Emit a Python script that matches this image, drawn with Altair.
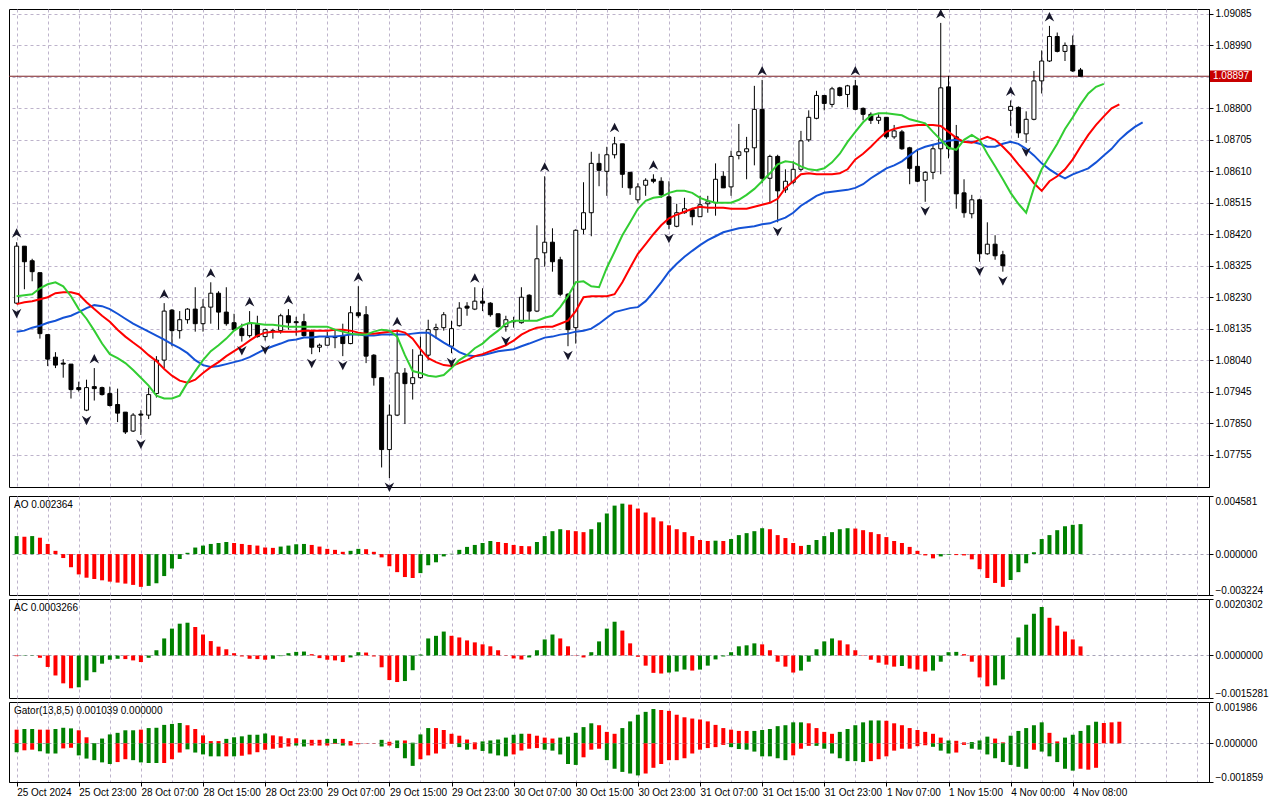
import altair as alt
import pandas as pd

# ---------------- data (EURUSD H1) ----------------
OPEN = [1.08212, 1.08384, 1.08340, 1.08304, 1.08117, 1.08049, 1.08031, 1.08028, 1.07957, 1.07889,
        1.07960, 1.07957, 1.07939, 1.07906, 1.07883, 1.07826, 1.07877, 1.07874, 1.07939, 1.08040,
        1.08191, 1.08129, 1.08162, 1.08194, 1.08150, 1.08200, 1.08242, 1.08185, 1.08153, 1.08135,
        1.08114, 1.08147, 1.08111, 1.08126, 1.08129, 1.08174, 1.08156, 1.08156, 1.08129, 1.08079,
        1.08085, 1.08111, 1.08114, 1.08090, 1.08183, 1.08177, 1.08055, 1.07987, 1.07770, 1.07874,
        1.08001, 1.07969, 1.07987, 1.08055, 1.08132, 1.08138, 1.08082, 1.08144, 1.08203, 1.08194,
        1.08218, 1.08212, 1.08180, 1.08141, 1.08156, 1.08153, 1.08236, 1.08188, 1.08364, 1.08396,
        1.08343, 1.08239, 1.08138, 1.08435, 1.08485, 1.08634, 1.08610, 1.08660, 1.08693, 1.08607,
        1.08524, 1.08568, 1.08586, 1.08580, 1.08533, 1.08444, 1.08485, 1.08494, 1.08473, 1.08512,
        1.08515, 1.08595, 1.08563, 1.08658, 1.08669, 1.08681, 1.08797, 1.08589, 1.08655, 1.08554,
        1.08577, 1.08616, 1.08705, 1.08770, 1.08839, 1.08812, 1.08862, 1.08842, 1.08868, 1.08800,
        1.08782, 1.08764, 1.08773, 1.08714, 1.08729, 1.08681, 1.08625, 1.08583, 1.08607, 1.08678,
        1.08865, 1.08714, 1.08545, 1.08482, 1.08524, 1.08361, 1.08390, 1.08358, 1.08794, 1.08803,
        1.08723, 1.08767, 1.08883, 1.08943, 1.09017, 1.08972, 1.08990, 1.08916]
HIGH = [1.08396, 1.08384, 1.08346, 1.08304, 1.08117, 1.08064, 1.08043, 1.08028, 1.07975, 1.07981,
        1.08016, 1.07960, 1.07960, 1.07954, 1.07883, 1.07880, 1.07889, 1.07957, 1.08052, 1.08212,
        1.08194, 1.08188, 1.08197, 1.08260, 1.08224, 1.08275, 1.08248, 1.08260, 1.08180, 1.08150,
        1.08188, 1.08174, 1.08135, 1.08135, 1.08180, 1.08194, 1.08171, 1.08180, 1.08132, 1.08090,
        1.08126, 1.08132, 1.08150, 1.08203, 1.08263, 1.08203, 1.08058, 1.07987, 1.07906, 1.08129,
        1.08016, 1.08073, 1.08111, 1.08162, 1.08150, 1.08185, 1.08159, 1.08215, 1.08215, 1.08260,
        1.08257, 1.08215, 1.08180, 1.08174, 1.08171, 1.08260, 1.08239, 1.08447, 1.08595, 1.08438,
        1.08352, 1.08242, 1.08435, 1.08577, 1.08669, 1.08663, 1.08684, 1.08714, 1.08693, 1.08607,
        1.08574, 1.08589, 1.08601, 1.08592, 1.08580, 1.08512, 1.08530, 1.08500, 1.08536, 1.08536,
        1.08634, 1.08610, 1.08672, 1.08753, 1.08714, 1.08868, 1.08886, 1.08660, 1.08660, 1.08616,
        1.08640, 1.08732, 1.08794, 1.08853, 1.08839, 1.08865, 1.08865, 1.08871, 1.08886, 1.08803,
        1.08788, 1.08782, 1.08773, 1.08750, 1.08735, 1.08684, 1.08675, 1.08610, 1.08690, 1.09058,
        1.08898, 1.08750, 1.08586, 1.08539, 1.08527, 1.08456, 1.08417, 1.08370, 1.08824, 1.08806,
        1.08791, 1.08913, 1.08975, 1.09049, 1.09029, 1.08999, 1.09020, 1.08922]
LOW = [1.08209, 1.08254, 1.08278, 1.08105, 1.08022, 1.08016, 1.07987, 1.07924, 1.07945, 1.07886,
       1.07918, 1.07933, 1.07900, 1.07853, 1.07817, 1.07823, 1.07814, 1.07862, 1.07927, 1.08016,
       1.08082, 1.08105, 1.08150, 1.08126, 1.08126, 1.08150, 1.08132, 1.08144, 1.08129, 1.08096,
       1.08108, 1.08108, 1.08099, 1.08105, 1.08120, 1.08132, 1.08114, 1.08111, 1.08058, 1.08064,
       1.08085, 1.08076, 1.08052, 1.08088, 1.08168, 1.08031, 1.07963, 1.07716, 1.07684, 1.07871,
       1.07847, 1.07921, 1.07984, 1.08040, 1.08105, 1.08129, 1.08061, 1.08141, 1.08174, 1.08191,
       1.08188, 1.08171, 1.08138, 1.08126, 1.08138, 1.08150, 1.08159, 1.08185, 1.08322, 1.08307,
       1.08233, 1.08082, 1.08090, 1.08420, 1.08414, 1.08565, 1.08536, 1.08649, 1.08560, 1.08539,
       1.08515, 1.08536, 1.08574, 1.08530, 1.08435, 1.08441, 1.08482, 1.08447, 1.08473, 1.08485,
       1.08476, 1.08560, 1.08536, 1.08646, 1.08586, 1.08628, 1.08574, 1.08515, 1.08456, 1.08545,
       1.08571, 1.08610, 1.08699, 1.08767, 1.08794, 1.08803, 1.08836, 1.08803, 1.08794, 1.08764,
       1.08753, 1.08753, 1.08708, 1.08708, 1.08675, 1.08571, 1.08577, 1.08518, 1.08586, 1.08601,
       1.08649, 1.08497, 1.08470, 1.08468, 1.08337, 1.08358, 1.08343, 1.08307, 1.08747, 1.08711,
       1.08696, 1.08764, 1.08845, 1.08940, 1.08969, 1.08943, 1.08910, 1.08897]
CLOSE = [1.08384, 1.08337, 1.08307, 1.08120, 1.08043, 1.08025, 1.08028, 1.07951, 1.07951, 1.07957,
         1.07954, 1.07936, 1.07903, 1.07880, 1.07823, 1.07874, 1.07874, 1.07936, 1.08040, 1.08188,
         1.08129, 1.08162, 1.08194, 1.08150, 1.08200, 1.08242, 1.08185, 1.08150, 1.08132, 1.08114,
         1.08150, 1.08111, 1.08132, 1.08129, 1.08174, 1.08153, 1.08153, 1.08114, 1.08079, 1.08085,
         1.08108, 1.08108, 1.08090, 1.08183, 1.08174, 1.08052, 1.07987, 1.07770, 1.07874, 1.08001,
         1.07969, 1.07987, 1.08055, 1.08132, 1.08138, 1.08177, 1.08135, 1.08197, 1.08197, 1.08218,
         1.08212, 1.08177, 1.08141, 1.08162, 1.08159, 1.08230, 1.08188, 1.08346, 1.08396, 1.08337,
         1.08239, 1.08132, 1.08432, 1.08485, 1.08634, 1.08613, 1.08660, 1.08693, 1.08601, 1.08560,
         1.08563, 1.08583, 1.08580, 1.08539, 1.08450, 1.08485, 1.08497, 1.08473, 1.08509, 1.08518,
         1.08586, 1.08560, 1.08655, 1.08669, 1.08678, 1.08797, 1.08589, 1.08655, 1.08551, 1.08580,
         1.08616, 1.08702, 1.08773, 1.08839, 1.08815, 1.08859, 1.08839, 1.08868, 1.08797, 1.08782,
         1.08764, 1.08773, 1.08714, 1.08732, 1.08678, 1.08619, 1.08580, 1.08607, 1.08678, 1.08862,
         1.08678, 1.08542, 1.08485, 1.08524, 1.08361, 1.08390, 1.08355, 1.08325, 1.08806, 1.08726,
         1.08767, 1.08883, 1.08943, 1.09017, 1.08972, 1.08990, 1.08913, 1.08897]

# Alligator lines (Lips = green, Teeth = red, Jaw = blue), one value per bar, shifted ahead
LIPS = [1.08233, 1.08236, 1.08239, 1.08257, 1.08269, 1.08275, 1.08263, 1.08233, 1.08194, 1.08165,
        1.08129, 1.08090, 1.08058, 1.08046, 1.08031, 1.08010, 1.07987, 1.07963, 1.07933, 1.07924,
        1.07924, 1.07933, 1.07972, 1.08007, 1.08040, 1.08067, 1.08085, 1.08105, 1.08129, 1.08144,
        1.08153, 1.08150, 1.08147, 1.08147, 1.08144, 1.08141, 1.08141, 1.08141, 1.08141, 1.08141,
        1.08141, 1.08132, 1.08126, 1.08120, 1.08117, 1.08117, 1.08126, 1.08132, 1.08129, 1.08111,
        1.08055, 1.08007, 1.08001, 1.07993, 1.07990, 1.07995, 1.08016, 1.08040, 1.08055, 1.08076,
        1.08090, 1.08111, 1.08129, 1.08150, 1.08159, 1.08159, 1.08159, 1.08159, 1.08168, 1.08174,
        1.08200, 1.08233, 1.08275, 1.08278, 1.08263, 1.08260, 1.08319, 1.08367, 1.08417, 1.08456,
        1.08497, 1.08521, 1.08530, 1.08533, 1.08545, 1.08551, 1.08551, 1.08545, 1.08530, 1.08521,
        1.08515, 1.08515, 1.08515, 1.08524, 1.08539, 1.08557, 1.08580, 1.08604, 1.08631, 1.08640,
        1.08637, 1.08625, 1.08616, 1.08613, 1.08619, 1.08637, 1.08663, 1.08699, 1.08729, 1.08758,
        1.08779, 1.08785, 1.08785, 1.08782, 1.08779, 1.08767, 1.08761, 1.08755, 1.08729, 1.08705,
        1.08681, 1.08675, 1.08705, 1.08720, 1.08705, 1.08663, 1.08625, 1.08586, 1.08545, 1.08512,
        1.08485, 1.08560, 1.08616, 1.08655, 1.08693, 1.08738, 1.08773, 1.08812, 1.08845, 1.08865,
        1.08874]
TEETH = [1.08209, 1.08215, 1.08218, 1.08224, 1.08230, 1.08242, 1.08245, 1.08245, 1.08239, 1.08215,
         1.08194, 1.08174, 1.08156, 1.08132, 1.08111, 1.08093, 1.08076, 1.08055, 1.08037, 1.08013,
         1.07993, 1.07978, 1.07972, 1.07981, 1.08001, 1.08019, 1.08034, 1.08052, 1.08067, 1.08082,
         1.08099, 1.08114, 1.08123, 1.08126, 1.08126, 1.08126, 1.08126, 1.08129, 1.08129, 1.08129,
         1.08129, 1.08132, 1.08132, 1.08129, 1.08123, 1.08120, 1.08120, 1.08123, 1.08126, 1.08129,
         1.08123, 1.08105, 1.08073, 1.08046, 1.08034, 1.08025, 1.08022, 1.08031, 1.08040, 1.08052,
         1.08058, 1.08067, 1.08076, 1.08085, 1.08099, 1.08117, 1.08129, 1.08138, 1.08141, 1.08141,
         1.08150, 1.08159, 1.08188, 1.08230, 1.08233, 1.08233, 1.08233, 1.08239, 1.08275, 1.08319,
         1.08361, 1.08390, 1.08420, 1.08447, 1.08468, 1.08479, 1.08488, 1.08497, 1.08503, 1.08500,
         1.08500, 1.08500, 1.08497, 1.08497, 1.08497, 1.08503, 1.08509, 1.08515, 1.08527, 1.08560,
         1.08580, 1.08601, 1.08604, 1.08601, 1.08601, 1.08601, 1.08604, 1.08616, 1.08646, 1.08663,
         1.08684, 1.08708, 1.08729, 1.08738, 1.08744, 1.08747, 1.08750, 1.08750, 1.08750, 1.08747,
         1.08729, 1.08711, 1.08699, 1.08696, 1.08705, 1.08714, 1.08705, 1.08684, 1.08660, 1.08631,
         1.08604, 1.08574, 1.08551, 1.08580, 1.08595, 1.08616, 1.08646, 1.08684, 1.08720, 1.08750,
         1.08776, 1.08800, 1.08812]
JAW = [1.08126, 1.08129, 1.08138, 1.08144, 1.08153, 1.08159, 1.08168, 1.08174, 1.08185, 1.08197,
       1.08206, 1.08203, 1.08194, 1.08180, 1.08165, 1.08150, 1.08138, 1.08126, 1.08114, 1.08102,
       1.08088, 1.08076, 1.08061, 1.08040, 1.08025, 1.08019, 1.08022, 1.08028, 1.08034, 1.08040,
       1.08049, 1.08061, 1.08073, 1.08082, 1.08090, 1.08099, 1.08102, 1.08108, 1.08108, 1.08111,
       1.08111, 1.08111, 1.08114, 1.08117, 1.08117, 1.08114, 1.08114, 1.08117, 1.08117, 1.08117,
       1.08117, 1.08120, 1.08123, 1.08123, 1.08108, 1.08093, 1.08079, 1.08064, 1.08055, 1.08052,
       1.08055, 1.08061, 1.08067, 1.08070, 1.08073, 1.08082, 1.08090, 1.08099, 1.08108, 1.08111,
       1.08117, 1.08120, 1.08126, 1.08129, 1.08135, 1.08150, 1.08168, 1.08185, 1.08191, 1.08197,
       1.08200, 1.08218, 1.08245, 1.08275, 1.08307, 1.08331, 1.08352, 1.08370, 1.08387, 1.08402,
       1.08414, 1.08426, 1.08432, 1.08438, 1.08441, 1.08444, 1.08450, 1.08453, 1.08462, 1.08470,
       1.08485, 1.08506, 1.08521, 1.08536, 1.08545, 1.08548, 1.08551, 1.08554, 1.08560, 1.08571,
       1.08589, 1.08604, 1.08619, 1.08628, 1.08640, 1.08658, 1.08675, 1.08684, 1.08690, 1.08696,
       1.08702, 1.08705, 1.08699, 1.08699, 1.08693, 1.08684, 1.08684, 1.08693, 1.08699, 1.08693,
       1.08678, 1.08658, 1.08634, 1.08616, 1.08601, 1.08589, 1.08601, 1.08610, 1.08619, 1.08637,
       1.08658, 1.08678, 1.08705, 1.08726, 1.08744, 1.08758]

FRACTAL_UP = [0, 10, 19, 25, 30, 35, 44, 49, 59, 68, 77, 82, 96, 108, 119, 128, 133]
FRACTAL_DN = [0, 9, 16, 29, 32, 38, 42, 48, 56, 63, 71, 84, 98, 117, 124, 127, 130]

AO = [0.001421, 0.001369, 0.001421, 0.001292, 0.000801, 0.000258, -0.000310, -0.001033, -0.001601, -0.001860,
      -0.001963, -0.002066, -0.002170, -0.002247, -0.002325, -0.002428, -0.002583, -0.002506, -0.002299, -0.001731,
      -0.001137, -0.000387, 0.000103, 0.000517, 0.000672, 0.000801, 0.000878, 0.000956, 0.000878, 0.000801,
      0.000723, 0.000672, 0.000517, 0.000491, 0.000594, 0.000672, 0.000775, 0.000801, 0.000723, 0.000594,
      0.000413, 0.000336, 0.000181, 0.000258, 0.000413, 0.000387, 0.000181, -0.000258, -0.000956, -0.001421,
      -0.001808, -0.001886, -0.001498, -0.000878, -0.000646, -0.000181, 0.000026, 0.000336, 0.000568, 0.000723,
      0.000878, 0.001033, 0.000956, 0.000878, 0.000723, 0.000646, 0.000620, 0.000956, 0.001421, 0.001808,
      0.001963, 0.001886, 0.001808, 0.001731, 0.001963, 0.002506, 0.003203, 0.003823, 0.003978, 0.003900,
      0.003590, 0.003280, 0.002893, 0.002583, 0.002273, 0.001963, 0.001731, 0.001421, 0.001111, 0.001033,
      0.001059, 0.001033, 0.001188, 0.001498, 0.001653, 0.001808, 0.002041, 0.001963, 0.001498, 0.001266,
      0.000878, 0.000646, 0.000723, 0.001111, 0.001421, 0.001731, 0.001963, 0.002041, 0.002015, 0.001886,
      0.001731, 0.001576, 0.001343, 0.001033, 0.000878, 0.000568, 0.000258, -0.000103, -0.000336, -0.000181,
      -0.000052, -0.000078, -0.000103, -0.000413, -0.001188, -0.001886, -0.002273, -0.002583, -0.002041, -0.001421,
      -0.000723, 0.000155, 0.001188, 0.001498, 0.001886, 0.002196, 0.002310, 0.002364]
AO_COL = ("grgrrrrrrr" "rrrrrrrggg" "ggggggggrr" "rrrrggggrr" "rrrggrrrrr" "rrgggggggg" "ggrrrrrggg"
          "grrrgggggr" "rrrrrrrrrr" "grgggggrrr" "rrggggggrr" "rrrrrrrrrg" "grrrrrrrgg" "gggggggg")

# Accelerator oscillator, in units of 1e-7
AC_E7 = [-236, -118, 118, -825, -4123, -7186, -10013, -11780, -11427, -8953,
         -6008, -2945, -1531, -1178, -1296, -1767, -2356, -825, 1885, 6126,
         9660, 11427, 11780, 10249, 7539, 5183, 3181, 2238, 825, -353,
         -1178, -1296, -1531, -1178, -236, 825, 1296, 1414, 471, -942,
         -1531, -1767, -2356, -707, 1178, 1060, -353, -4241, -8835, -9542,
         -9188, -5301, 353, 6126, 7068, 8599, 7068, 6479, 5419, 4712,
         4005, 3298, 1885, 118, -1060, -1414, -707, 1885, 5772, 7539,
         6126, 3298, -118, -707, 1178, 5065, 9660, 12133, 8953, 4359,
         -471, -3652, -6243, -6479, -6126, -5772, -5065, -5419, -5065, -3652,
         -1414, -353, 1178, 3298, 3652, 4359, 4005, 1885, -2238, -4005,
         -6126, -5419, -2238, 2238, 5065, 6126, 5419, 4005, 1885, 118,
         -1531, -2592, -3298, -4005, -3770, -4712, -5065, -5772, -5419, -2238,
         1178, 1296, 471, -2238, -7893, -11073, -10720, -8599, 118, 6479,
         11073, 14961, 17434, 13547, 10720, 8599, 5772, 3266]
AC_COL = ("rggrrrrrgg" "ggggrrrggg" "gggrrrrrrr" "rrrgggggrr" "rrrggrrrrr" "ggggggrrrr" "rrrrrrgggg"
          "rrrrggggrr" "rrrrgggrgg" "ggggggrrrr" "rgggggrrrr" "rrrrgrrrgg" "ggrrrrgggg" "gggrrrrr")

# Gator oscillator, in units of 1e-6 (upper / lower histograms)
GATOR_UP_E6 = [657, 687, 687, 657, 657, 687, 748, 718, 626, 290,
               15, 229, 428, 504, 626, 626, 657, 733, 748, 886,
               931, 977, 870, 687, 382, 107, 107, 214, 290, 336,
               412, 412, 473, 382, 336, 244, 244, 183, 168, 168,
               214, 214, 214, 107, 15, 0, 0, 168, 76, 137,
               137, 31, 428, 733, 733, 641, 458, 366, 183, 46,
               92, 137, 183, 275, 412, 458, 458, 366, 275, 229,
               275, 321, 504, 779, 962, 870, 550, 458, 733, 1054,
               1374, 1512, 1649, 1603, 1558, 1374, 1252, 1191, 1145, 1054,
               886, 733, 657, 596, 596, 596, 641, 687, 825, 870,
               1008, 1008, 962, 733, 550, 458, 550, 687, 870, 1008,
               1099, 1099, 1084, 962, 870, 733, 641, 550, 458, 275,
               137, 122, 46, 61, 137, 321, 229, 46, 366, 596,
               733, 870, 1008, 504, 92, 275, 412, 596, 870, 1038,
               977, 1008, 1039]
GATOR_UP_COL = ("rggrrgggrr" "ggggggrggg" "ggrrrrrggg" "gggrrrrgrr" "ggrrrrrgrg" "rgggrrrrrr" "ggggggrrrr"
                "gggggrrrgg" "gggrrrrrrr" "rrrrrggggg" "ggrrrrgggg" "ggrrrrrrrr" "grrgggrrgg" "gggrrggggg" "rrr")
GATOR_DN_E6 = [-428, -336, -305, -382, -489, -489, -244, -214, -580, -733,
               -809, -916, -993, -901, -764, -809, -916, -947, -947, -947,
               -764, -443, -290, -443, -534, -626, -626, -626, -626, -596,
               -534, -428, -305, -260, -214, -153, -107, -153, -107, -107,
               -107, -31, -107, -107, -46, -15, -15, -153, -107, -229,
               -718, -1084, -764, -580, -489, -260, -31, -183, -305, -290,
               -366, -489, -580, -626, -534, -351, -260, -229, -305, -351,
               -534, -993, -1038, -672, -305, -260, -809, -1222, -1374, -1451,
               -1542, -1451, -1176, -993, -809, -809, -718, -489, -305, -229,
               -183, -76, -183, -275, -305, -397, -626, -626, -718, -809,
               -580, -260, -122, -122, -260, -489, -718, -855, -855, -901,
               -855, -764, -626, -351, -260, -260, -137, -92, -168, -351,
               -489, -443, -76, -260, -305, -534, -718, -901, -1038, -1130,
               -1222, -305, -397, -626, -901, -1222, -1313, -1222, -1267, -1176]
GATOR_DN_COL = ("grrgggrrgg" "gggrrggggr" "rrgggggrgr" "rrrrrrggrr" "rrgrrrrgrg" "ggrrrrrggr" "ggggrrrrgg"
                "gggrrrgggg" "grrrrrrrrr" "rrgggggggg" "rrrggggggg" "rrrrrrrrgg" "grrggggggg" "grgggggrrr")

PRICE_TICKS = [1.09085, 1.08990, 1.08895, 1.08800, 1.08705, 1.08610, 1.08515, 1.08420,
               1.08325, 1.08230, 1.08135, 1.08040, 1.07945, 1.07850, 1.07755]
PRICE_RANGE = [1.07657, 1.09100]
CURRENT = 1.08897
AO_RANGE = [-0.003224, 0.004581]
AC_RANGE = [-0.0015281, 0.0020302]
GATOR_RANGE = [-0.001859, 0.001986]
XLABELS = ["25 Oct 2024", "25 Oct 23:00", "28 Oct 07:00", "28 Oct 15:00", "28 Oct 23:00",
           "29 Oct 07:00", "29 Oct 15:00", "29 Oct 23:00", "30 Oct 07:00", "30 Oct 15:00",
           "30 Oct 23:00", "31 Oct 07:00", "31 Oct 15:00", "31 Oct 23:00", "1 Nov 07:00",
           "1 Nov 15:00", "4 Nov 00:00", "4 Nov 08:00"]
LABEL_AO = "AO 0.002364"
LABEL_AC = "AC 0.0003266"
LABEL_GATOR = "Gator(13,8,5) 0.001039 0.000000"

# ---------------- styling ----------------
FONT = "Liberation Sans"
W = 1200
H_MAIN, H_AO, H_AC, H_GT = 478, 99, 99, 80
GRID = "#bdb3cb"
GREEN_BAR, RED_BAR = "#008000", "#ff0000"
LIME, TEETH_C, JAW_C = "#32cd32", "#ff0000", "#1452d6"
XDOM = [-0.34, 152.9]
LAST_LABEL_BAR = 8 * (len(XLABELS) - 1)

xs = alt.Scale(domain=XDOM, nice=False, zero=False)
grid_vals = list(range(0, 153, 4))
AX_X = alt.Axis(values=grid_vals, grid=True, gridDash=[3, 3], gridColor=GRID,
                labels=False, ticks=False, domain=False, title=None)
lab_arr = "[" + ",".join("'" + s + "'" for s in XLABELS) + "]"
tick_test = f"datum.value % 8 === 0 && datum.value <= {LAST_LABEL_BAR}"
AX_X_BOTTOM = alt.Axis(values=grid_vals, grid=True, gridDash=[3, 3], gridColor=GRID,
                       labels=True, labelExpr=f"{tick_test} ? {lab_arr}[datum.value / 8] : ''",
                       labelAlign="left", labelBaseline="top", labelPadding=1, labelOverlap=False,
                       labelFontSize=10, labelFont=FONT, labelColor="black",
                       ticks=True, tickSize=4,
                       tickColor={"condition": {"test": tick_test, "value": "black"}, "value": "transparent"},
                       domain=True, domainColor="black", title=None)

def X(axis=AX_X):
    return alt.X("i:Q", scale=xs, axis=axis, title=None)

# ---------------- main price panel ----------------
cd = pd.DataFrame({"i": list(range(len(OPEN))), "o": OPEN, "h": HIGH, "l": LOW, "c": CLOSE})
cd["bt"] = cd[["o", "c"]].max(axis=1)
cd["bb"] = cd[["o", "c"]].min(axis=1)
cd["bull"] = cd["c"] >= cd["o"]

ys = alt.Scale(domain=PRICE_RANGE, nice=False, zero=False)
AX_Y = alt.Axis(orient="right", values=PRICE_TICKS, grid=True, gridDash=[3, 3], gridColor=GRID,
                tickSize=4, labelPadding=2, title=None, labelOverlap=False,
                labelExpr=f"abs(datum.value - {CURRENT}) < 0.0002 ? '' : format(datum.value, '.5f')")

def Y(field):
    return alt.Y(field, scale=ys, axis=AX_Y, title=None)

price_line = alt.Chart(pd.DataFrame({"p": [CURRENT]})).mark_rule(
    color="#7a1f24", strokeWidth=1).encode(y=Y("p:Q"))
wicks = alt.Chart(cd).mark_rule(color="black", strokeWidth=1).encode(x=X(), y=Y("l:Q"), y2="h:Q")
bodies = alt.Chart(cd).mark_bar(size=4, stroke="black", strokeWidth=1).encode(
    x=X(), y=Y("bb:Q"), y2="bt:Q",
    fill=alt.condition("datum.bull", alt.value("white"), alt.value("black")))

def line(vals, color):
    df = pd.DataFrame({"i": list(range(len(vals))), "v": vals})
    return alt.Chart(df).mark_line(color=color, strokeWidth=2).encode(x=X(), y=Y("v:Q"))

UP_PATH = "M0,-1L0.95,0.9L0,0.3L-0.95,0.9Z"
DN_PATH = "M0,1L0.95,-0.9L0,-0.3L-0.95,-0.9Z"
fu = cd[cd["i"].isin(FRACTAL_UP)]
fd = cd[cd["i"].isin(FRACTAL_DN)]
frac_up = alt.Chart(fu).mark_point(shape=UP_PATH, size=100, filled=True, color="#17172a",
                                   opacity=1, yOffset=-9).encode(x=X(), y=Y("h:Q"))
frac_dn = alt.Chart(fd).mark_point(shape=DN_PATH, size=100, filled=True, color="#17172a",
                                   opacity=1, yOffset=9).encode(x=X(), y=Y("l:Q"))

cur = pd.DataFrame({"p": [CURRENT], "t": [f"{CURRENT:.5f}"]})
box = alt.Chart(cur).mark_point(shape="M-1,-0.27L1,-0.27L1,0.27L-1,0.27Z", size=1764,
                                filled=True, color="#c80000", opacity=1).encode(
    x=alt.value(W + 22), y=Y("p:Q"))
box_txt = alt.Chart(cur).mark_text(align="left", baseline="middle", color="white",
                                   font=FONT, fontSize=10).encode(
    x=alt.value(W + 4), y=Y("p:Q"), text="t:N")

main = alt.layer(price_line, wicks, bodies, line(JAW, JAW_C), line(TEETH, TEETH_C),
                 line(LIPS, LIME), frac_up, frac_dn, box, box_txt).properties(width=W, height=H_MAIN)

# ---------------- indicator panels ----------------
col_scale = alt.Scale(domain=["g", "r"], range=[GREEN_BAR, RED_BAR])

def ind_axis(rng, fmt):
    return alt.Axis(orient="right", values=[rng[1], 0, rng[0]], format=fmt, grid=True,
                    gridDash=[3, 3],
                    gridColor={"condition": {"test": "datum.value === 0", "value": "#a7a3b8"},
                               "value": "transparent"},
                    labelFlush=True, tickSize=4, labelPadding=2, title=None)

def bars(vals, cols, rng, fmt, xaxis=AX_X):
    df = pd.DataFrame({"i": list(range(len(vals))), "v": vals, "col": list(cols)})
    sc = alt.Scale(domain=rng, nice=False, zero=False)
    return alt.Chart(df).mark_bar(size=4).encode(
        x=X(xaxis), y=alt.Y("v:Q", scale=sc, axis=ind_axis(rng, fmt), title=None),
        y2=alt.datum(0), color=alt.Color("col:N", scale=col_scale, legend=None))

def label(t):
    return alt.Chart(pd.DataFrame({"t": [t]})).mark_text(
        align="left", baseline="middle", font=FONT, fontSize=10, color="black").encode(
        x=alt.value(5), y=alt.value(9), text="t:N")

AC = [v * 1e-7 for v in AC_E7]
GT_UP = [v * 1e-6 for v in GATOR_UP_E6]
GT_DN = [v * 1e-6 for v in GATOR_DN_E6]

ao = alt.layer(bars(AO, AO_COL, AO_RANGE, ".6f"), label(LABEL_AO)).properties(width=W, height=H_AO)
ac = alt.layer(bars(AC, AC_COL, AC_RANGE, ".7f"), label(LABEL_AC)).properties(width=W, height=H_AC)
gt = alt.layer(bars(GT_UP, GATOR_UP_COL, GATOR_RANGE, ".6f", AX_X_BOTTOM),
               bars(GT_DN, GATOR_DN_COL, GATOR_RANGE, ".6f", AX_X_BOTTOM),
               label(LABEL_GATOR)).properties(width=W, height=H_GT)

chart = alt.vconcat(main, ao, ac, gt, spacing=2).properties(
    padding={"left": 0, "top": 0, "right": 0, "bottom": 0}
).configure(background="white").configure_view(
    stroke="black", strokeWidth=1
).configure_axis(labelFont=FONT, labelFontSize=10, labelColor="black",
                 tickColor="black", domainColor="black")

chart.save("out.html", embed_options={"renderer": "svg", "actions": False})
